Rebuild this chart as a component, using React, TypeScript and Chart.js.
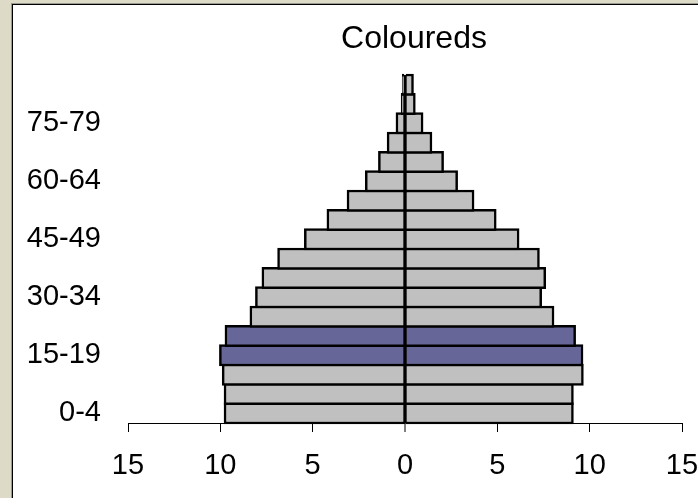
import React, { useEffect, useRef } from "react";
import { Chart, registerables } from "chart.js";

Chart.register(...registerables);

const TITLE = "Coloureds";

const AGE_GROUPS = [
  "0-4", "5-9", "10-14", "15-19", "20-24", "25-29", "30-34", "35-39", "40-44",
  "45-49", "50-54", "55-59", "60-64", "65-69", "70-74", "75-79", "80-84", "85+",
];

const SHOWN_AGE_LABELS = ["0-4", "15-19", "30-34", "45-49", "60-64", "75-79"];

const HIGHLIGHTED = ["15-19", "20-24"];

// Left side (plotted as negative values)
const MALE = [9.8, 9.8, 9.9, 10.05, 9.75, 8.4, 8.1, 7.75, 6.9, 5.45, 4.23, 3.14, 2.15, 1.44, 0.97, 0.49, 0.21, 0.15];
// Right side
const FEMALE = [9.12, 9.12, 9.66, 9.64, 9.24, 8.07, 7.4, 7.62, 7.28, 6.18, 4.94, 3.74, 2.85, 2.09, 1.46, 0.98, 0.56, 0.46];

const X_TICKS = [-15, -10, -5, 0, 5, 10, 15];

const FONT = '"Liberation Sans", Arial, sans-serif';
const GREY = "#C0C0C0";
const PURPLE = "#666699";

export default function App() {
  const ref = useRef<HTMLCanvasElement | null>(null);

  useEffect(() => {
    if (!ref.current) return;
    const colors = AGE_GROUPS.map((a) => (HIGHLIGHTED.includes(a) ? PURPLE : GREY));

    const titlePlugin = {
      id: "customTitle",
      afterDraw(chart: any) {
        const ctx = chart.ctx;
        ctx.save();
        ctx.font = `32px ${FONT}`;
        ctx.fillStyle = "#000";
        ctx.textAlign = "center";
        ctx.textBaseline = "alphabetic";
        ctx.fillText(TITLE, 414, 48);
        ctx.restore();
      },
    };

    const chart = new Chart(ref.current, {
      type: "bar",
      data: {
        labels: AGE_GROUPS,
        datasets: [
          {
            label: "Male",
            data: MALE.map((v) => -v),
            backgroundColor: colors,
            borderColor: "#000",
            borderWidth: { top: 2.5, bottom: 2.5, left: 2.5, right: 1 } as any,
            borderSkipped: false,
            barThickness: 21.3,
            clip: false as any,
          },
          {
            label: "Female",
            data: FEMALE,
            backgroundColor: colors,
            borderColor: "#000",
            borderWidth: { top: 2.5, bottom: 2.5, left: 1, right: 2.5 } as any,
            borderSkipped: false,
            barThickness: 21.3,
            clip: false as any,
          },
        ],
      },
      options: {
        indexAxis: "y",
        responsive: false,
        animation: false,
        layout: { padding: { top: 75, left: 0, right: 16, bottom: 0 } },
        plugins: {
          legend: { display: false },
          title: { display: false },
          tooltip: { enabled: false },
        },
        scales: {
          x: {
            type: "linear",
            stacked: true,
            min: -15,
            max: 15,
            z: 1,
            afterFit: (s: any) => {
              s.height = 75;
              s.paddingLeft = 0;
              s.paddingRight = 0;
            },
            afterBuildTicks: (s: any) => {
              s.ticks = X_TICKS.map((v) => ({ value: v }));
            },
            grid: {
              display: true,
              drawOnChartArea: true,
              drawTicks: true,
              tickLength: 9,
              color: (c: any) => (c.tick && c.tick.value === 0 ? "#000" : "rgba(0,0,0,0)"),
              lineWidth: (c: any) => (c.tick && c.tick.value === 0 ? 2 : 1),
              tickColor: "#000",
              tickWidth: 1,
            },
            border: { display: true, color: "#000", width: 1 },
            ticks: {
              stepSize: 5,
              padding: 17,
              color: "#000",
              font: { family: FONT, size: 29 },
              maxRotation: 0,
              callback: (v: any) => String(Math.abs(Number(v))),
            },
          },
          y: {
            type: "category",
            stacked: true,
            reverse: true,
            afterFit: (s: any) => {
              s.width = 128;
              s.paddingTop = 0;
              s.paddingBottom = 0;
            },
            grid: { display: false, drawTicks: false },
            border: { display: false },
            ticks: {
              autoSkip: false,
              padding: 27,
              color: "#000",
              font: { family: FONT, size: 29 },
              callback: (_v: any, i: number) =>
                SHOWN_AGE_LABELS.includes(AGE_GROUPS[i]) ? AGE_GROUPS[i] : "",
            },
          },
        },
      },
      plugins: [titlePlugin],
    });
    return () => chart.destroy();
  }, []);

  return (
    <div style={{ position: "fixed", inset: 0, background: "#DDDAC8", overflow: "hidden" }}>
      <div
        style={{
          position: "absolute",
          left: 12,
          top: 4,
          width: 720,
          height: 520,
          background: "#fff",
          borderLeft: "1px solid #000",
          borderTop: "1px solid #000",
          boxShadow: "-1px -1px 0 #9a9a90",
        }}
      />
      <canvas
        ref={ref}
        width={698}
        height={498}
        style={{ position: "absolute", left: 0, top: 0, width: 698, height: 498 }}
      />
    </div>
  );
}
